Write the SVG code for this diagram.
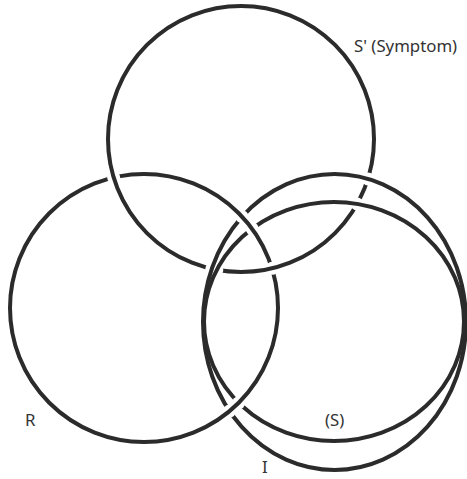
<svg xmlns="http://www.w3.org/2000/svg" width="467" height="479" viewBox="0 0 467 479">
  <style>
    .ring { fill: none; stroke: #2b2b2b; stroke-width: 4; }
    .lbl { font-family: "Noto Sans", "Open Sans", sans-serif; font-size: 16.8px; fill: #333333; }
  </style>
  <defs>
    <mask id="mR" maskUnits="userSpaceOnUse" x="0" y="0" width="467" height="479">
      <rect width="467" height="479" fill="#fff"/>
      <circle cx="113.7" cy="177.5" r="6.5" fill="#000"/>
      <circle cx="272.1" cy="268.3" r="6.5" fill="#000"/>
    </mask>
    <mask id="mT" maskUnits="userSpaceOnUse" x="0" y="0" width="467" height="479">
      <rect width="467" height="479" fill="#fff"/>
      <circle cx="211.8" cy="268.8" r="6.5" fill="#000"/>
      <circle cx="216.8" cy="269.9" r="6.5" fill="#000"/>
      <circle cx="368" cy="178.9" r="6.5" fill="#000"/>
      <circle cx="357.1" cy="203.9" r="6.5" fill="#000"/>
    </mask>
    <mask id="mI" maskUnits="userSpaceOnUse" x="0" y="0" width="467" height="479">
      <rect width="467" height="479" fill="#fff"/>
      <circle cx="242" cy="216.7" r="6.5" fill="#000"/>
      <circle cx="229.5" cy="411.1" r="6.5" fill="#000"/>
    </mask>
    <mask id="mS" maskUnits="userSpaceOnUse" x="0" y="0" width="467" height="479">
      <rect width="467" height="479" fill="#fff"/>
      <circle cx="252.1" cy="228.7" r="6.5" fill="#000"/>
      <circle cx="238.7" cy="402.8" r="6.5" fill="#000"/>
    </mask>
  </defs>
  <rect width="467" height="479" fill="#ffffff"/>
  <g id="symptom">
    <circle class="ring" cx="241" cy="139" r="133" mask="url(#mT)"/>
    <text class="lbl" x="354" y="52">S' (Symptom)</text>
  </g>
  <g id="real">
    <circle class="ring" cx="144" cy="308" r="134" mask="url(#mR)"/>
    <text class="lbl" x="25" y="426">R</text>
  </g>
  <g id="imaginary">
    <ellipse class="ring" cx="334.5" cy="322" rx="131.5" ry="148" mask="url(#mI)"/>
    <text class="lbl" x="262" y="473">I</text>
  </g>
  <g id="symbolic">
    <ellipse class="ring" cx="334" cy="321.5" rx="130" ry="119.5" mask="url(#mS)"/>
    <text class="lbl" x="325" y="426">(S)</text>
  </g>
</svg>
